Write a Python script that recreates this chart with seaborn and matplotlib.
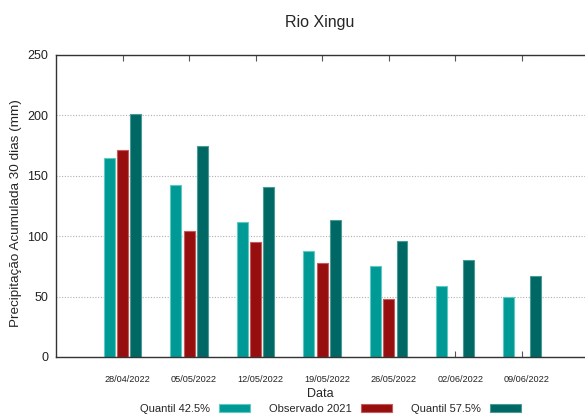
import pandas as pd
import numpy as np
import matplotlib
matplotlib.use('Agg')
import matplotlib.pyplot as plt
import matplotlib.transforms as mtransforms
from matplotlib.patches import Patch
import seaborn as sns

dates = ['28/04/2022', '05/05/2022', '12/05/2022', '19/05/2022',
         '26/05/2022', '02/06/2022', '09/06/2022']
q425 = [165, 142, 112, 88, 75, 59, 50]
obs2021 = [171, 104, 95, 78, 48, np.nan, np.nan]
q575 = [201, 175, 141, 113, 96, 80, 67]
series = ['Quantil 42.5%', 'Observado 2021', 'Quantil 57.5%']
colors = ['#009a96', '#970e0e', '#006864']
edges = ['#5fc9c4', '#c95a5a', '#4a9a96']

df = pd.DataFrame({'Data': dates * 3,
                   'valor': q425 + obs2021 + q575,
                   'serie': [s for s in series for _ in dates]})

sns.set_style('white')
plt.rcParams['font.family'] = ['Liberation Sans', 'DejaVu Sans']

fig = plt.figure(figsize=(5.85, 4.15), dpi=100)
ax = fig.add_axes([0.0957, 0.1398, 0.9043, 0.7277])

sns.barplot(data=df, x='Data', y='valor', hue='serie', hue_order=series,
            palette=colors, saturation=1, width=0.6, gap=0.175,
            errorbar=None, legend=False, ax=ax)
for bars, ec in zip(ax.containers, edges):
    for b in bars:
        b.set_edgecolor(ec)
        b.set_linewidth(0.8)

ax.set_xlim(-1.0, 6.95)
ax.set_ylim(0, 250)
ax.set_yticks([0, 50, 100, 150, 200, 250])
ax.yaxis.grid(True, linestyle=(0, (1, 1.5)), color='#b0b0b0', linewidth=0.8)
ax.set_axisbelow(True)
for s in ['left', 'bottom', 'top']:
    ax.spines[s].set_visible(True)
    ax.spines[s].set_color('#333333')
    ax.spines[s].set_linewidth(1.0)
ax.spines['right'].set_visible(False)

ax.tick_params(axis='y', length=0, labelsize=9, pad=5.5, labelcolor='#222222')
ax.tick_params(axis='x', direction='in', length=4, top=True, bottom=True,
               labelsize=6.6, pad=13, labelcolor='#222222', color='#555555')
shift = mtransforms.ScaledTranslation(5 / 100, 0, fig.dpi_scale_trans)
for lab in ax.get_xticklabels():
    lab.set_transform(lab.get_transform() + shift)
ax.set_xlabel('Data', fontsize=9, labelpad=0)
ax.xaxis.set_label_coords(0.5, -0.102)
ax.set_ylabel('Precipitação Acumulada 30 dias (mm)', fontsize=9.7)
ax.yaxis.set_label_coords(-0.064, 0.475)
fig.text(0.547, 0.945, 'Rio Xingu', ha='center', va='center', fontsize=11.5)

handles = [Patch(facecolor=c, edgecolor=e, linewidth=0.8)
           for c, e in zip(colors, edges)]
fig.legend(handles, series, loc='lower center', bbox_to_anchor=(0.565, -0.013),
           ncol=3, frameon=False, markerfirst=False, fontsize=8,
           handlelength=2.8, handleheight=0.8, columnspacing=1.7,
           handletextpad=0.8, borderaxespad=0.2)

fig.savefig('out.png', dpi=100)
